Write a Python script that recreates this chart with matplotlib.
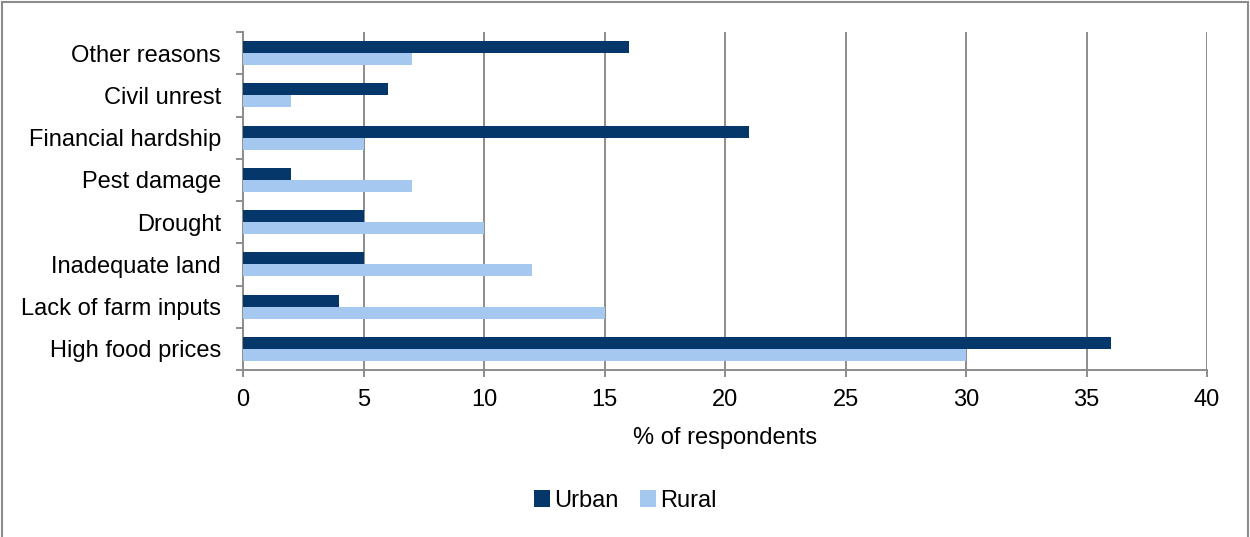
import numpy as np
import matplotlib
matplotlib.use("Agg")
import matplotlib.pyplot as plt
from matplotlib.patches import Rectangle

plt.rcParams['font.family'] = ['Liberation Sans', 'DejaVu Sans']

# data, bottom to top as drawn
categories = ['High food prices', 'Lack of farm inputs', 'Inadequate land', 'Drought',
              'Pest damage', 'Financial hardship', 'Civil unrest', 'Other reasons']
urban = [36, 4, 5, 5, 2, 21, 6, 16]
rural = [30, 15, 12, 10, 7, 5, 2, 7]
xticks = [0, 5, 10, 15, 20, 25, 30, 35, 40]

urban_col = '#06376a'
rural_col = '#a4c8f0'
grey = '#8c8c8c'

fig = plt.figure(figsize=(12.5, 5.37), dpi=100)
ax = fig.add_axes([0.1944, 0.311, 0.7712, 0.6293])

y = np.arange(len(categories))
h = 0.285
ax.barh(y + h/2, urban, height=h, color=urban_col, label='Urban', zorder=3)
ax.barh(y - h/2, rural, height=h, color=rural_col, label='Rural', zorder=3)

ax.set_xlim(0, 40)
ax.set_ylim(-0.5, len(categories) - 0.5)
ax.set_xticks(xticks)
ax.set_yticks(y)
ax.set_yticklabels(categories)
ax.set_yticks(np.arange(-0.5, len(categories), 1), minor=True)

# vertical grid lines
ax.grid(axis='x', color=grey, linewidth=1.4, zorder=0)
ax.set_axisbelow(True)

for s in ['top', 'right']:
    ax.spines[s].set_visible(False)
for s in ['left', 'bottom']:
    ax.spines[s].set_color(grey)
    ax.spines[s].set_linewidth(1.4)

ax.tick_params(axis='y', which='major', length=0, pad=16, labelsize=17)
ax.tick_params(axis='y', which='minor', length=5, width=1.4, color=grey)
ax.tick_params(axis='x', length=5, width=1.4, color=grey, pad=9, labelsize=17)

ax.set_xlabel('% of respondents', fontsize=17, labelpad=11)

fig.legend(loc='center', bbox_to_anchor=(0.5, 1 - 501/537), ncol=2, frameon=False,
           fontsize=17, handlelength=0.7, handleheight=0.7, handletextpad=0.15,
           columnspacing=0.9)

fig.patches.append(Rectangle((0.0015, -0.01), 0.997, 1.006, transform=fig.transFigure,
                             fill=False, edgecolor=grey, linewidth=1.5))

fig.savefig('out.png', dpi=100)
